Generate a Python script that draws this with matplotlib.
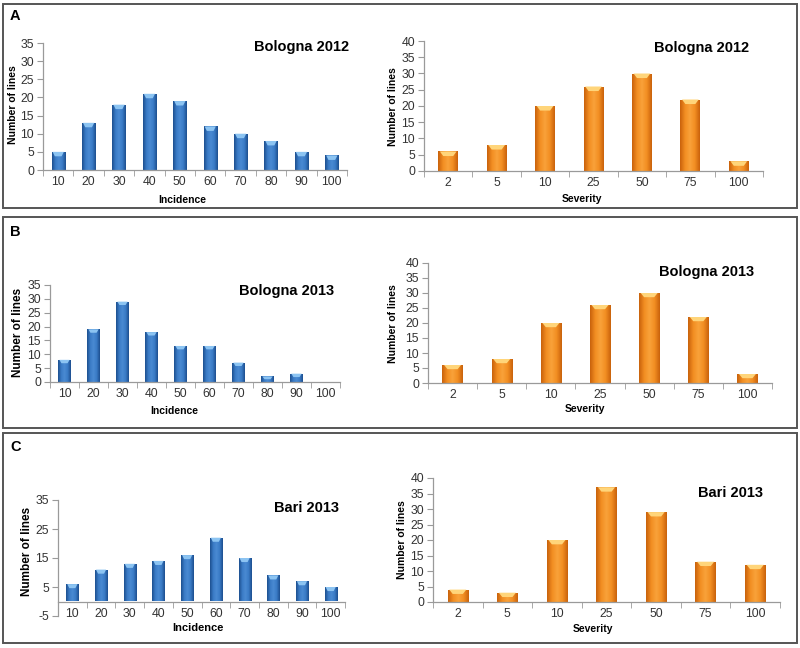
import matplotlib
matplotlib.use("Agg")
import matplotlib.pyplot as plt
import numpy as np
from matplotlib.patches import Rectangle
from matplotlib.colors import LinearSegmentedColormap

plt.rcParams['font.family'] = ['Liberation Sans', 'DejaVu Sans']
plt.rcParams['axes.unicode_minus'] = False

# ---------------- data ----------------
incidence_labels = ["10", "20", "30", "40", "50", "60", "70", "80", "90", "100"]
severity_labels = ["2", "5", "10", "25", "50", "75", "100"]

bologna2012_incidence = [5, 13, 18, 21, 19, 12, 10, 8, 5, 4]
bologna2012_severity = [6, 8, 20, 26, 30, 22, 3]
bologna2013_incidence = [8, 19, 29, 18, 13, 13, 7, 2, 3, 0]
bologna2013_severity = [6, 8, 20, 26, 30, 22, 3]
bari2013_incidence = [6, 11, 13, 14, 16, 22, 15, 9, 7, 5]
bari2013_severity = [4, 3, 20, 37, 29, 13, 12]

panel_letters = ["A", "B", "C"]
titles = ["Bologna 2012", "Bologna 2013", "Bari 2013"]

W, H = 800, 648
fig = plt.figure(figsize=(W / 100, H / 100), dpi=100)


def fx(px):
    return px / W


def fy(py):
    return 1 - py / H


def axes_px(x0, x1, ytop, ybot):
    return fig.add_axes([fx(x0), fy(ybot), fx(x1 - x0), (ybot - ytop) / H])


blue_cmap = LinearSegmentedColormap.from_list(
    "b", ["#1d4f8f", "#3a7bc6", "#4a8ad2", "#3a7bc6", "#1d4f8f"])
orange_cmap = LinearSegmentedColormap.from_list(
    "o", ["#c9620c", "#f28e22", "#f9a23a", "#f28e22", "#c9620c"])
blue_cap = "#8cc4f2"
orange_cap = "#ffd57a"

TICK_COLOR = "#333333"
AXIS_COLOR = "#9a9a9a"


def draw(ax, labels, values, cmap, capc, ylim, yticks, width, title, title_xy):
    n = len(labels)
    x = np.arange(n)
    bars = ax.bar(x, values, width=width, color="none", edgecolor="none", zorder=2)
    grad = np.linspace(0, 1, 64).reshape(1, -1)
    yr = ylim[1] - ylim[0]
    for b in bars:
        h = b.get_height()
        if h <= 0:
            continue
        x0, w = b.get_x(), b.get_width()
        im = ax.imshow(grad, cmap=cmap, aspect="auto",
                       extent=(x0, x0 + w, 0, h), zorder=2, interpolation="bilinear")
        im.set_clip_path(b)
        cap = min(0.035 * yr, h * 0.5)
        ax.add_patch(plt.Polygon([(x0 + w * 0.08, h), (x0 + w * 0.92, h),
                                  (x0 + w * 0.75, h - cap), (x0 + w * 0.25, h - cap)],
                                 closed=True, color=capc, zorder=3, lw=0))
    ax.set_xlim(-0.5, n - 0.5)
    ax.set_ylim(*ylim)
    ax.set_yticks(yticks)
    ax.set_xticks(x)
    ax.set_xticklabels(labels)
    ax.set_xticks(np.arange(n + 1) - 0.5, minor=True)
    ax.tick_params(axis="x", which="major", length=0, labelsize=8.8,
                   labelcolor=TICK_COLOR, pad=4.5)
    ax.tick_params(axis="x", which="minor", length=4, color=AXIS_COLOR, direction="out")
    ax.tick_params(axis="y", length=4, color=AXIS_COLOR, labelsize=8.8,
                   labelcolor=TICK_COLOR, pad=2.5)
    for s in ["top", "right"]:
        ax.spines[s].set_visible(False)
    for s in ["left", "bottom"]:
        ax.spines[s].set_color(AXIS_COLOR)
        ax.spines[s].set_linewidth(0.9)
    if ylim[0] < 0:
        ax.spines["bottom"].set_position(("data", 0))
    ax.set_facecolor("none")
    fig.text(fx(title_xy[0]), fy(title_xy[1]), title, fontsize=10.5,
             fontweight="bold", ha="center", va="center", color="black")


# panel boxes
boxes = [(3, 4, 797, 208), (3, 217, 797, 428), (3, 433, 797, 643)]
for (x0, y0, x1, y1) in boxes:
    fig.patches.append(Rectangle((fx(x0), fy(y1)), fx(x1 - x0), (y1 - y0) / H,
                                 transform=fig.transFigure, fill=False,
                                 edgecolor="#555555", lw=1.4))
letter_pos = [(10, 16), (10, 232), (10, 447)]
for L, (lx, ly) in zip(panel_letters, letter_pos):
    fig.text(fx(lx), fy(ly), L, fontsize=10.5, fontweight="bold",
             ha="left", va="center")

# ---------- row A ----------
ax = axes_px(43, 347, 43, 170)
draw(ax, incidence_labels, bologna2012_incidence, blue_cmap, blue_cap,
     (0, 35), np.arange(0, 36, 5), 0.44, titles[0], (302, 47))
fig.text(fx(182), fy(200), "Incidence", fontsize=7.5, fontweight="bold",
         ha="center", va="center")
fig.text(fx(13), fy(105), "Number of lines", fontsize=7.5, fontweight="bold",
         rotation=90, ha="center", va="center")

ax = axes_px(424, 763, 41, 171)
draw(ax, severity_labels, bologna2012_severity, orange_cmap, orange_cap,
     (0, 40), np.arange(0, 41, 5), 0.41, titles[0], (702, 48))
fig.text(fx(582), fy(199), "Severity", fontsize=7.5, fontweight="bold",
         ha="center", va="center")
fig.text(fx(393), fy(107), "Number of lines", fontsize=7.5, fontweight="bold",
         rotation=90, ha="center", va="center")

# ---------- row B ----------
ax = axes_px(50, 340, 285, 382)
draw(ax, incidence_labels, bologna2013_incidence, blue_cmap, blue_cap,
     (0, 35), np.arange(0, 36, 5), 0.42, titles[1], (287, 291))
fig.text(fx(174), fy(411), "Incidence", fontsize=7.5, fontweight="bold",
         ha="center", va="center")
fig.text(fx(18), fy(332), "Number of lines", fontsize=8.5, fontweight="bold",
         rotation=90, ha="center", va="center")

ax = axes_px(428, 772, 263, 383)
draw(ax, severity_labels, bologna2013_severity, orange_cmap, orange_cap,
     (0, 40), np.arange(0, 41, 5), 0.41, titles[1], (707, 272))
fig.text(fx(585), fy(409), "Severity", fontsize=7.5, fontweight="bold",
         ha="center", va="center")
fig.text(fx(393), fy(324), "Number of lines", fontsize=7.5, fontweight="bold",
         rotation=90, ha="center", va="center")

# ---------- row C ----------
ax = axes_px(58, 345, 500, 616)
draw(ax, incidence_labels, bari2013_incidence, blue_cmap, blue_cap,
     (-5, 35), np.arange(-5, 36, 10), 0.42, titles[2], (307, 508))
fig.text(fx(198), fy(628), "Incidence", fontsize=8, fontweight="bold",
         ha="center", va="center")
fig.text(fx(27), fy(551), "Number of lines", fontsize=8.5, fontweight="bold",
         rotation=90, ha="center", va="center")

ax = axes_px(433, 780, 478, 602)
draw(ax, severity_labels, bari2013_severity, orange_cmap, orange_cap,
     (0, 40), np.arange(0, 41, 5), 0.41, titles[2], (730, 493))
fig.text(fx(593), fy(629), "Severity", fontsize=7.5, fontweight="bold",
         ha="center", va="center")
fig.text(fx(402), fy(540), "Number of lines", fontsize=7.5, fontweight="bold",
         rotation=90, ha="center", va="center")

fig.savefig("out.png", dpi=100)
